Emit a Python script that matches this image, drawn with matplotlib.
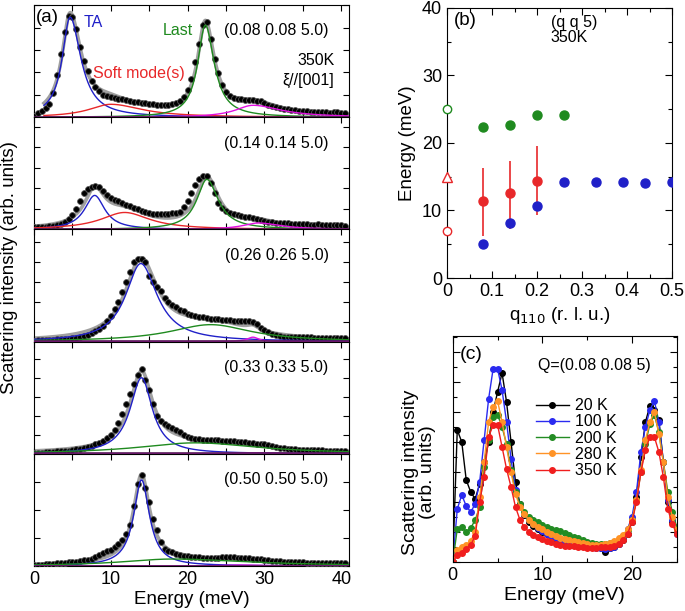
import numpy as np
import matplotlib.pyplot as plt
from matplotlib.ticker import MultipleLocator, NullFormatter

plt.rcParams['font.family'] = ['Liberation Sans', 'DejaVu Sans']
plt.rcParams['font.size'] = 13
plt.rcParams['xtick.direction'] = 'in'
plt.rcParams['ytick.direction'] = 'in'

# ---------------- panel (a): constant-Q scans at 350 K ----------------
energy_a = np.arange(0.0, 41.0, 0.5)
q_labels = ['(0.08 0.08 5.0)', '(0.14 0.14 5.0)', '(0.26 0.26 5.0)',
            '(0.33 0.33 5.0)', '(0.50 0.50 5.0)']

int_008 = [1, 4, 6.5, 9, 13, 24, 42, 63, 85, 101,
           100, 88, 70, 56, 46, 36, 30, 26, 22, 21,
           20, 19, 18, 18, 17, 16, 15, 15, 14, 14,
           13, 13, 12, 12, 12, 12, 13, 14, 16, 20,
           27, 38, 55, 73, 92, 95, 78, 58, 44, 32,
           25, 21, 19, 18, 18, 17, 17, 17, 16, 16,
           14, 12, 11, 10, 9, 8, 8, 7, 7, 6,
           6, 6, 5, 5, 5, 5, 5, 4, 5, 5,
           4, 4]
int_014 = [2, 2, 2, 2.5, 3, 3, 4, 5, 7, 10,
           14, 20, 28, 36, 40, 42, 43, 42, 38, 34,
           31, 29, 28, 26, 24, 23, 21, 20, 18, 17,
           16, 15, 15, 15, 15, 15, 16, 16, 17, 22,
           28, 36, 44, 50, 53, 53, 46, 36, 26, 21,
           18, 16, 15, 14, 13, 12, 12, 11, 10, 9,
           8, 7, 7, 6, 6, 6, 6, 5, 5, 5,
           5, 5, 4, 4, 5, 4, 4, 4, 4, 4,
           4, 3]
int_026 = [1, 1.5, 1.5, 2, 2, 2, 2.5, 2.5, 3, 3,
           3.5, 4, 5, 6, 7, 9, 11, 13, 16, 21,
           26, 33, 40, 50, 60, 70, 80, 83, 83, 80,
           66, 60, 55, 51, 44, 40, 37, 35, 32, 31,
           28, 27, 26, 25, 25, 24, 23, 23, 23, 22,
           22, 22, 21, 21, 21, 21, 21, 20, 18, 14,
           12, 10, 8, 7, 6, 5, 5, 5, 5, 4.5,
           4.5, 4.5, 4.5, 4, 4, 4, 4, 4, 4, 3.5,
           3.5, 3.5]
int_033 = [0.7, 1, 1.2, 1.5, 2, 2, 2.5, 2.7, 3, 3.3,
           3.8, 4.5, 5.3, 6, 7, 8, 9.5, 11, 13, 15.5,
           19, 24, 31, 40, 50, 60, 70, 79, 85, 74,
           64, 50, 38, 33, 30, 28, 26, 24, 22, 19,
           17, 15.5, 15, 14.5, 14, 14, 14, 13.5, 13.5, 13,
           13, 13, 12.5, 12, 12, 11.5, 11, 10.5, 10, 10,
           9.5, 8.5, 7.5, 7, 6, 5.5, 5, 4.5, 4.5, 4,
           4, 4, 3.8, 3.7, 3.5, 3.5, 3.3, 3.2, 3, 3,
           3, 3]
int_050 = [1, 1.2, 1.5, 1.8, 2, 2.3, 2.6, 3, 3.3, 3.7,
           4, 4.5, 5, 5.8, 6.5, 7.5, 9, 11, 13, 15,
           16.5, 19, 22, 26, 32, 41, 60, 82, 91, 78,
           64, 47, 36, 24, 17, 15.5, 14, 12.5, 11, 10.5,
           10, 9.5, 9, 8.7, 8.5, 8, 8, 8, 8.5, 8.7,
           9, 9, 8.8, 8.5, 8.2, 8, 7.8, 7.5, 7.2, 6.8,
           6.5, 6, 5.5, 5, 4.7, 4.5, 4.3, 4.1, 4, 3.8,
           3.7, 3.5, 3.4, 3.3, 3.2, 3.1, 3, 2.9, 2.8, 2.8,
           2.7, 2.7]
a_err = 1.5

# fitted components: (centre, height, hwhm below, hwhm above) or None
ta_fit = [(4.7, 100, 1.25, 1.7), (7.9, 34, 1.6, 1.6), (13.9, 78, 2.4, 2.6),
          (14.0, 76, 1.8, 1.7), (14.0, 86, 1.25, 1.25)]
soft_fit = [(10.0, 13, 3.5, 5.0), (11.8, 17, 3.8, 4.0), None, None, None]
last_fit = [(22.3, 92, 1.2, 1.4), (22.5, 50, 1.6, 1.8), (23.0, 17, 6.5, 6.5),
            (21.0, 11, 9.0, 10.0), (18.0, 7, 8.0, 12.0)]
extra_fit = [(28.5, 12, 2.8, 4.5), (29.2, 6.5, 2.5, 3.5), (28.5, 4.5, 0.9, 0.9),
             (29.0, 1.0, 3.0, 3.0), (27.0, 1.0, 3.0, 3.0)]
fit_start = [1.3, 0.0, 0.0, 0.0, 0.0]

# ---------------- panel (b): dispersion at 350 K ----------------
q_last = [0.08, 0.14, 0.20, 0.26]
e_last = [22.4, 22.7, 24.2, 24.2]
q_soft = [0.08, 0.14, 0.20]
e_soft = [11.4, 12.6, 14.3]
soft_lo = [6.2, 7.2, 9.3]
soft_hi = [16.3, 17.4, 19.5]
q_ta = [0.08, 0.14, 0.20, 0.26, 0.33, 0.39, 0.44, 0.50]
e_ta = [5.0, 8.2, 10.7, 14.2, 14.2, 14.2, 14.1, 14.2]
e_zone_last = 25.0
e_zone_tri = 15.0
e_zone_soft = 7.0

# ---------------- panel (c): temperature dependence ----------------
energy_c = np.arange(0.0, 25.1, 0.5)
temps = ['20 K', '100 K', '200 K', '280 K', '350 K']
int_20 = [0, 132, 120, 82, 70, 63, 78, 100, 120, 150,
          170, 189, 160, 120, 80, 58, 47, 40, 36, 33,
          30, 28, 26, 23, 20, 21, 20, 20, 19, 18,
          18, 16, 15, 14, 10, 14, 15, 18, 22, 28,
          40, 65, 105, 140, 156, 152, 142, 100, 60, 40, 30]
int_100 = [0, 53, 67, 56, 50, 58, 80, 122, 163, 193,
           193, 172, 140, 103, 72, 57, 48, 42, 38, 34,
           31, 28, 26, 24, 22, 21, 20, 19, 18, 17,
           16, 15, 14, 14, 13, 14, 15, 18, 24, 33,
           45, 70, 110, 135, 152, 161, 140, 100, 62, 42, 28]
int_200 = [0, 33, 35, 30, 34, 42, 55, 95, 122, 145,
           147, 135, 118, 92, 70, 58, 50, 45, 42, 40,
           37, 35, 33, 32, 31, 29, 27, 25, 24, 22,
           20, 19, 18, 18, 18, 19, 20, 22, 26, 32,
           42, 62, 90, 118, 138, 147, 130, 100, 70, 50, 35]
int_280 = [0, 12, 15, 17, 21, 30, 65, 100, 140, 155,
           161, 140, 115, 90, 68, 55, 48, 42, 38, 35,
           33, 30, 28, 26, 24, 23, 22, 21, 20, 19,
           18, 17, 17, 17, 18, 19, 21, 24, 27, 33,
           42, 62, 92, 122, 140, 150, 128, 100, 65, 45, 32]
int_350 = [0, 7, 9, 13, 17, 26, 60, 85, 125, 137,
           137, 115, 93, 75, 55, 42, 35, 30, 27, 25,
           23, 21, 20, 18, 17, 16, 16, 16, 15, 15,
           14, 14, 14, 15, 15, 15, 16, 18, 22, 28,
           40, 60, 90, 112, 125, 125, 110, 85, 53, 38, 28]


def split_lorentz(x, comp):
    centre, height, wl, wr = comp
    w = np.where(x < centre, wl, wr)
    return height / (1.0 + ((x - centre) / w) ** 2)


BLUE = '#2020c8'
RED = '#e8282a'
GREEN = '#1f8a1f'
MAGENTA = '#e010e0'

fig = plt.figure(figsize=(6.85, 6.11), dpi=100)

# ---- (a) ----
scans = [int_008, int_014, int_026, int_033, int_050]
ytick_step = [22.4, 20.5, 20.0, 19.0, 28.0]
a_left, a_width = 0.0496, 0.4599
a_bottom, a_h = 0.0736, 0.1836
for i in range(5):
    ax = fig.add_axes([a_left, a_bottom + (4 - i) * a_h, a_width, a_h])
    x = np.linspace(fit_start[i], 41, 500)
    comps = [ta_fit[i], soft_fit[i], last_fit[i], extra_fit[i]]
    cols = [BLUE, RED, GREEN, MAGENTA]
    total = np.zeros_like(x)
    for comp in comps:
        if comp is not None:
            total += split_lorentz(x, comp)
    ax.plot(x, total, color='#a0a0a0', lw=2.6, zorder=2)
    ax.errorbar(energy_a, scans[i], yerr=a_err, fmt='o', ms=4.2, mfc='black',
                mec='#555555', mew=0.6, ecolor='#777777', elinewidth=0.8,
                zorder=3)
    for comp, c in zip(comps, cols):
        if comp is not None:
            ax.plot(x, split_lorentz(x, comp), color=c, lw=1.0, zorder=4)
    ax.plot([0, 41], [0.4, 0.4], color='#5a1a5a', lw=1.2, zorder=4)
    ax.set_xlim(0, 41)
    ax.set_ylim(0, 112)
    ax.xaxis.set_major_locator(MultipleLocator(10))
    ax.xaxis.set_minor_locator(MultipleLocator(5))
    ax.yaxis.set_major_locator(MultipleLocator(ytick_step[i]))
    ax.yaxis.set_major_formatter(NullFormatter())
    ax.tick_params(which='both', top=True, right=True, width=0.8, length=4)
    if i < 4:
        ax.xaxis.set_major_formatter(NullFormatter())
    else:
        ax.set_xlabel('Energy (meV)', fontsize=13.5, labelpad=2)
    ax.text(0.935, 0.77, q_labels[i], transform=ax.transAxes, ha='right',
            va='center', fontsize=11.5)
    if i == 0:
        ax.text(0.3, 100, '(a)', fontsize=13.5, va='center', ha='left')
        ax.text(6.5, 95, 'TA', color=BLUE, fontsize=11.5, va='center')
        ax.text(16.8, 87, 'Last', color=GREEN, fontsize=11.5, va='center')
        ax.text(7.7, 44, 'Soft mode(s)', color=RED, fontsize=11.5, va='center')
        ax.text(39.1, 57, '350K', fontsize=11.5, ha='right', va='center')
        ax.text(39.1, 37, 'ξ//[001]', fontsize=11.5, ha='right', va='center')

fig.text(0.014, 0.562, 'Scattering intensity (arb. units)', rotation=90,
         ha='center', va='center', fontsize=13.5)

# ---- (b) ----
axb = fig.add_axes([0.6526, 0.545, 0.3285, 0.442])
axb.vlines(q_soft, soft_lo, soft_hi, color=RED, lw=1.2, zorder=2)
axb.plot(q_last, e_last, 'o', color=GREEN, ms=6.5, zorder=3)
axb.plot(q_ta, e_ta, 'o', color=BLUE, ms=6.5, zorder=3)
axb.plot(q_soft, e_soft, 'o', color=RED, ms=6.5, zorder=3)
axb.plot([0], [e_zone_last], 'o', mfc='white', mec=GREEN, ms=6, clip_on=False, zorder=4)
axb.plot([0], [e_zone_tri], '^', mfc='white', mec=RED, ms=6.5, clip_on=False, zorder=4)
axb.plot([0], [e_zone_soft], 'o', mfc='white', mec=RED, ms=6, clip_on=False, zorder=4)
axb.set_xlim(0, 0.5)
axb.set_ylim(0, 40)
axb.xaxis.set_major_locator(MultipleLocator(0.1))
axb.xaxis.set_minor_locator(MultipleLocator(0.05))
axb.yaxis.set_major_locator(MultipleLocator(10))
axb.yaxis.set_minor_locator(MultipleLocator(5))
axb.xaxis.set_major_formatter(lambda v, p: '0' if v == 0 else f'{v:.1f}')
axb.tick_params(which='both', top=True, right=True, width=0.8, labelsize=13)
axb.tick_params(which='major', length=5)
axb.tick_params(which='minor', length=3)
axb.set_xlabel('q$_{110}$ (r. l. u.)', fontsize=13.5)
axb.set_ylabel('Energy (meV)', fontsize=13.5, labelpad=4)
axb.text(0.03, 0.955, '(b)', transform=axb.transAxes, fontsize=13.5, va='center')
axb.text(0.46, 0.945, '(q q 5)', transform=axb.transAxes, fontsize=11.5, va='center')
axb.text(0.46, 0.89, '350K', transform=axb.transAxes, fontsize=11.5, va='center')

# ---- (c) ----
axc = fig.add_axes([0.661, 0.0802, 0.327, 0.370])
series_c = [int_20, int_100, int_200, int_280, int_350]
cols_c = ['black', '#2a2af0', '#238c23', '#ff9326', '#f01e1e']
for lab, ys, c in zip(temps, series_c, cols_c):
    axc.plot(energy_c, ys, '-o', color=c, ms=4, lw=1.0, label=lab)
axc.set_xlim(0, 25)
axc.set_ylim(0, 226)
axc.xaxis.set_major_locator(MultipleLocator(10))
axc.xaxis.set_minor_locator(MultipleLocator(5))
axc.yaxis.set_major_locator(MultipleLocator(30))
axc.yaxis.set_minor_locator(MultipleLocator(15))
axc.yaxis.set_major_formatter(NullFormatter())
axc.tick_params(which='both', top=True, right=True, width=0.8, labelsize=13)
axc.tick_params(which='major', length=5)
axc.tick_params(which='minor', length=3)
axc.set_xlabel('Energy (meV)', fontsize=14, labelpad=2)
axc.text(0.03, 0.92, '(c)', transform=axc.transAxes, fontsize=14, va='center')
axc.text(0.38, 0.87, 'Q=(0.08 0.08 5)', transform=axc.transAxes, fontsize=11.5,
         va='center')
axc.legend(loc='upper left', bbox_to_anchor=(0.37, 0.725), frameon=False,
           fontsize=11.5, handlelength=2.1, handletextpad=0.35,
           labelspacing=0.08, borderpad=0, borderaxespad=0, numpoints=1)
fig.text(0.612, 0.227, 'Scattering intensity\n(arb. units)', rotation=90,
         ha='center', va='center', fontsize=14, linespacing=1.0,
         multialignment='center')

fig.savefig('out.png', dpi=100)
